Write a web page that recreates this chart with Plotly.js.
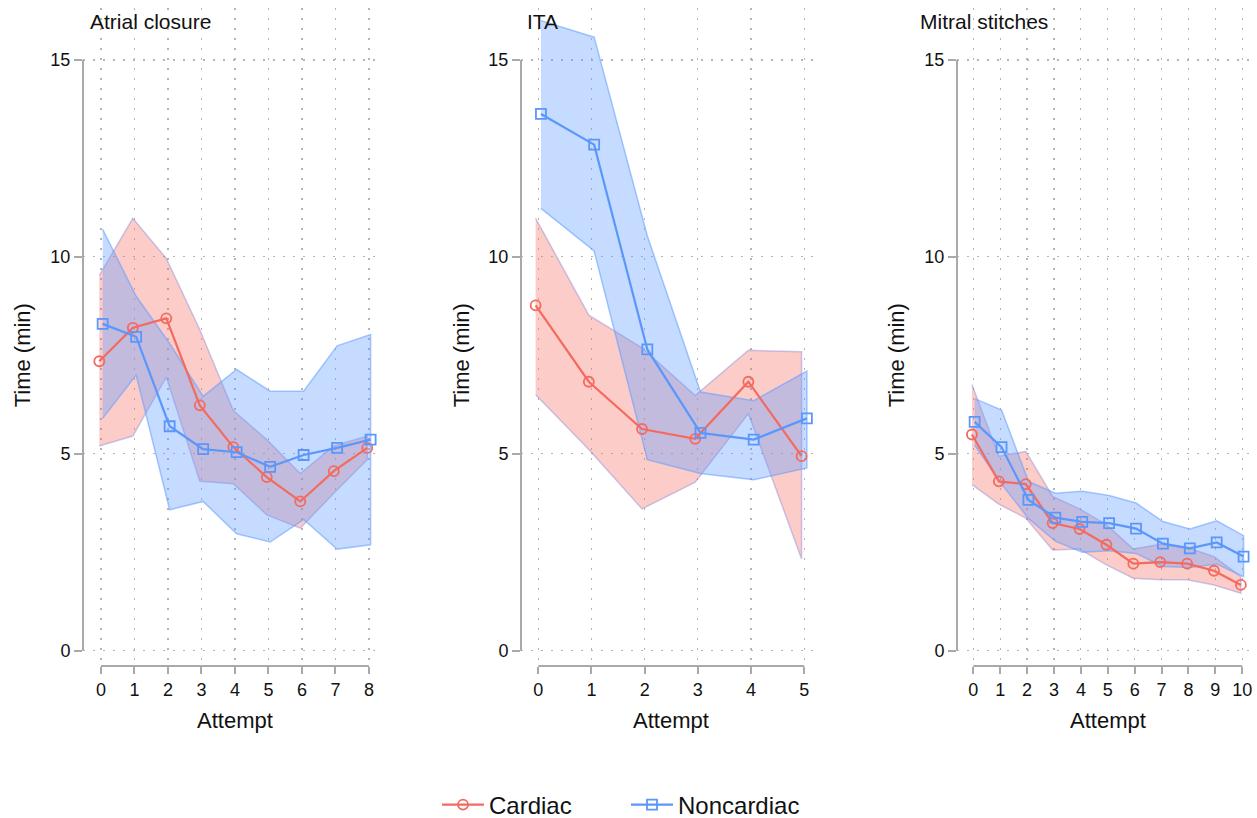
<!DOCTYPE html>
<html><head><meta charset="utf-8">
<script src="https://cdn.plot.ly/plotly-3.0.1.min.js"></script>
<style>html,body{margin:0;padding:0;background:#fff;} #chart{width:1257px;height:818px;}</style>
</head><body><div id="chart"></div>
<script>
// ---------------- data ----------------
const panelTitles = ['Atrial closure', 'ITA', 'Mitral stitches'];
const groupNames = ['Cardiac', 'Noncardiac'];
const yAxisTitle = 'Time (min)';
const xAxisTitle = 'Attempt';
const yTicks = [0, 5, 10, 15];

const atrialAttempt = [0, 1, 2, 3, 4, 5, 6, 7, 8];
const atrialCardiacMean = [7.35, 8.20, 8.44, 6.23, 5.17, 4.41, 3.79, 4.56, 5.15];
const atrialCardiacLow  = [5.20, 5.45, 6.95, 4.30, 4.24, 3.45, 3.11, 4.00, 4.85];
const atrialCardiacHigh = [9.53, 10.98, 9.96, 8.15, 6.10, 5.36, 4.50, 5.20, 5.45];
const atrialNoncardiacMean = [8.30, 7.97, 5.70, 5.12, 5.04, 4.67, 4.97, 5.15, 5.36];
const atrialNoncardiacLow  = [5.90, 7.00, 3.58, 3.79, 2.97, 2.76, 3.33, 2.58, 2.69];
const atrialNoncardiacHigh = [10.70, 9.00, 7.80, 6.46, 7.14, 6.59, 6.59, 7.74, 8.03];

const itaAttempt = [0, 1, 2, 3, 4, 5];
const itaCardiacMean = [8.77, 6.83, 5.63, 5.38, 6.83, 4.94];
const itaCardiacLow  = [6.50, 5.11, 3.60, 4.28, 6.02, 2.33];
const itaCardiacHigh = [10.98, 8.52, 7.69, 6.48, 7.63, 7.59];
const itaNoncardiacMean = [13.63, 12.85, 7.65, 5.53, 5.36, 5.90];
const itaNoncardiacLow  = [11.23, 10.15, 4.85, 4.50, 4.34, 4.64];
const itaNoncardiacHigh = [16.00, 15.58, 10.53, 6.57, 6.35, 7.10];

const mitralAttempt = [0, 1, 2, 3, 4, 5, 6, 7, 8, 9, 10];
const mitralCardiacMean = [5.49, 4.30, 4.23, 3.24, 3.09, 2.69, 2.21, 2.25, 2.21, 2.03, 1.67];
const mitralCardiacLow  = [4.22, 3.72, 3.37, 2.56, 2.58, 2.18, 1.84, 1.80, 1.80, 1.67, 1.46];
const mitralCardiacHigh = [6.76, 4.94, 5.06, 3.92, 3.60, 3.20, 2.58, 2.70, 2.62, 2.39, 1.88];
const mitralNoncardiacMean = [5.81, 5.17, 3.83, 3.38, 3.27, 3.24, 3.10, 2.72, 2.60, 2.75, 2.39];
const mitralNoncardiacLow  = [5.22, 4.23, 3.36, 2.78, 2.50, 2.54, 2.47, 2.14, 2.11, 2.20, 1.88];
const mitralNoncardiacHigh = [6.40, 6.11, 4.30, 4.00, 4.05, 3.94, 3.75, 3.28, 3.09, 3.30, 2.92];

// ---------------- styling ----------------
const FONT = '"Liberation Sans", Arial, Helvetica, sans-serif';
const W = 1257, H = 818;
const MT = 8, MB = 138;               // margins
const PH = H - MT - MB;               // paper height (672)
const plotBottomPx = 662, xLinePx = 666;
const yDomLow = (H - MB - plotBottomPx) / PH;
const xPos = (H - MB - xLinePx) / PH;
const GRAY = '#a9a9a9';
const TXT = '#111111';
const redLine = '#F46A5F', blueLine = '#5B97FB';
const redFill = 'rgba(248,118,109,0.37)', blueFill = 'rgba(97,156,255,0.37)';
const redEdge = 'rgba(120,120,215,0.38)', blueEdge = 'rgba(97,156,255,0.55)';
const dodge = 0.05;

const panels = [
  {title: panelTitles[0], att: atrialAttempt,
   c: [atrialCardiacMean, atrialCardiacLow, atrialCardiacHigh],
   n: [atrialNoncardiacMean, atrialNoncardiacLow, atrialNoncardiacHigh],
   dom: [83, 380], xr: [-0.537, 8.33], titlePx: 88, yTitlePx: 22},
  {title: panelTitles[1], att: itaAttempt,
   c: [itaCardiacMean, itaCardiacLow, itaCardiacHigh],
   n: [itaNoncardiacMean, itaNoncardiacLow, itaNoncardiacHigh],
   dom: [521, 817], xr: [-0.325, 5.24], titlePx: 525, yTitlePx: 461},
  {title: panelTitles[2], att: mitralAttempt,
   c: [mitralCardiacMean, mitralCardiacLow, mitralCardiacHigh],
   n: [mitralNoncardiacMean, mitralNoncardiacLow, mitralNoncardiacHigh],
   dom: [957, 1253], xr: [-0.606, 10.4], titlePx: 918, yTitlePx: 896}
];

const traces = [];
const layout = {
  width: W, height: H,
  margin: {l: 0, r: 0, t: MT, b: MB, pad: 0},
  paper_bgcolor: '#fff', plot_bgcolor: '#fff',
  font: {family: FONT, color: TXT},
  showlegend: true,
  legend: {orientation: 'h', x: 437 / W, xanchor: 'left', xref: 'paper',
           y: 1 - 805 / H, yref: 'container', yanchor: 'middle',
           entrywidth: 132, entrywidthmode: 'pixels', itemwidth: 42,
           font: {family: FONT, size: 24, color: TXT}, traceorder: 'normal'},
  shapes: [], annotations: []
};

const yMin = -(plotBottomPx - 650.7) / 39.38;
const yMax = 15 + (60 - MT) / 39.38;

panels.forEach((p, i) => {
  const sfx = i === 0 ? '' : String(i + 1);
  const xa = 'x' + sfx, ya = 'y' + sfx;
  const xc = p.att.map(a => a - dodge);
  const xn = p.att.map(a => a + dodge);
  const band = (xs, lo, hi, fill, edge) => ({
    type: 'scatter', mode: 'lines', xaxis: xa, yaxis: ya,
    x: xs.concat(xs.slice().reverse()),
    y: hi.concat(lo.slice().reverse()),
    fill: 'toself', fillcolor: fill, line: {color: edge, width: 1.5},
    hoverinfo: 'skip', showlegend: false
  });
  traces.push(band(xc, p.c[1], p.c[2], redFill, redEdge));
  traces.push(band(xn, p.n[1], p.n[2], blueFill, blueEdge));
  traces.push({type: 'scatter', mode: 'lines+markers', xaxis: xa, yaxis: ya,
    x: xc, y: p.c[0], name: groupNames[0], legendgroup: 'c', showlegend: i === 0,
    line: {color: redLine, width: 2.2},
    marker: {symbol: 'circle-open', size: 10, color: redLine, line: {width: 1.8, color: redLine}}});
  traces.push({type: 'scatter', mode: 'lines+markers', xaxis: xa, yaxis: ya,
    x: xn, y: p.n[0], name: groupNames[1], legendgroup: 'n', showlegend: i === 0,
    line: {color: blueLine, width: 2.2},
    marker: {symbol: 'square-open', size: 10, color: blueLine, line: {width: 1.8, color: blueLine}}});

  layout['xaxis' + sfx] = {
    domain: [p.dom[0] / W, p.dom[1] / W], range: p.xr,
    anchor: 'free', position: xPos,
    tickmode: 'array', tickvals: p.att, ticktext: p.att.map(String),
    ticks: 'outside', ticklen: 7, tickwidth: 2, tickcolor: GRAY,
    showline: false, zeroline: false,
    showgrid: true, gridcolor: '#b4b4b4', gridwidth: 1.2, griddash: '1.5px,8.5px',
    tickfont: {family: FONT, size: 18, color: TXT}, fixedrange: true
  };
  layout['yaxis' + sfx] = {
    domain: [yDomLow, 1], range: [yMin, yMax], anchor: xa,
    tickmode: 'array', tickvals: yTicks, ticktext: yTicks.map(String),
    ticks: 'outside', ticklen: 8, tickwidth: 2, tickcolor: GRAY,
    showline: false, zeroline: false,
    showgrid: true, gridcolor: '#b4b4b4', gridwidth: 1.2, griddash: '1.5px,8.5px',
    tickfont: {family: FONT, size: 18, color: TXT}, fixedrange: true
  };
  // partial axis lines (span only the tick range)
  layout.shapes.push({type: 'line', xref: xa, yref: 'paper',
    x0: Math.min(...p.att), x1: Math.max(...p.att), y0: xPos, y1: xPos,
    line: {color: GRAY, width: 2}});
  layout.shapes.push({type: 'line', xref: xa + ' domain', yref: ya,
    x0: 0, x1: 0, y0: Math.min(...yTicks), y1: Math.max(...yTicks),
    line: {color: GRAY, width: 2}});
  // panel title
  layout.annotations.push({text: p.title, xref: 'paper', yref: 'paper',
    x: p.titlePx / W, y: (H - MB - 21) / PH, xanchor: 'left', yanchor: 'middle',
    showarrow: false, font: {family: FONT, size: 21, color: TXT}});
  // y title
  layout.annotations.push({text: yAxisTitle, xref: 'paper', yref: ya,
    x: p.yTitlePx / W, y: (Math.min(...yTicks) + Math.max(...yTicks)) / 2,
    xanchor: 'center', yanchor: 'middle', textangle: -90,
    showarrow: false, font: {family: FONT, size: 22, color: TXT}});
  // x title
  layout.annotations.push({text: xAxisTitle, xref: xa, yref: 'paper',
    x: (Math.min(...p.att) + Math.max(...p.att)) / 2, y: (H - MB - 720) / PH,
    xanchor: 'center', yanchor: 'middle',
    showarrow: false, font: {family: FONT, size: 22, color: TXT}});
});

Plotly.newPlot('chart', traces, layout, {displayModeBar: false, staticPlot: true});
</script>
</body></html>
